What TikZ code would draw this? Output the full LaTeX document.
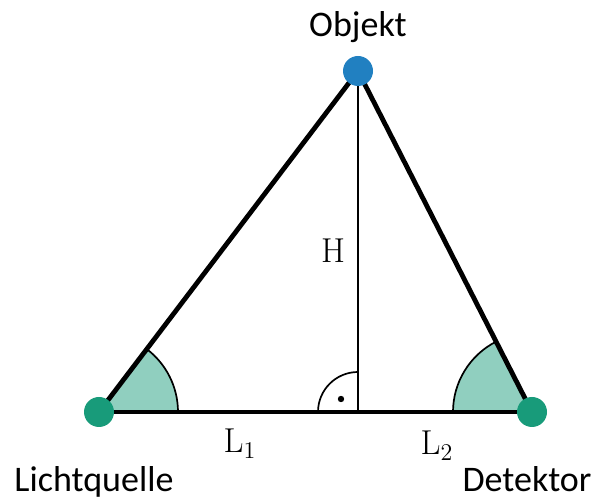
\documentclass[tikz,border=0pt]{standalone}
\usepackage[no-math]{fontspec}
\setmainfont{Carlito}
\usepackage{xcolor}
\definecolor{punktgruen}{RGB}{24,155,122}
\definecolor{punktblau}{RGB}{33,128,193}
\colorlet{winkelfill}{punktgruen!48}
\usepackage{tikz}
\usetikzlibrary{angles,backgrounds}

\begin{document}
\begin{tikzpicture}[
  x=0.5pt, y=-0.5pt,
  font=\fontsize{18}{22}\selectfont,
  punkt/.style={
    circle, inner sep=0pt, minimum size=15pt,
    fill=#1
  },
  seite/.style={line width=2.4pt, color=black},
  lot/.style={line width=1.3pt, color=black},
  winkel/.style={
    draw=black, fill=winkelfill,
    line width=0.85pt, angle radius=39.5pt
  },
  rechts/.style={
    draw=black, line width=0.85pt, angle radius=20pt
  },
  unten/.style={anchor=base, inner sep=0.5pt},
  mathlabel/.style={font=\fontsize{16.5}{19}\selectfont, anchor=base}
]
\useasboundingbox (0,0) rectangle (595,501);

\node[punkt=punktgruen] (quelle) at (99,412) {};
\node[punkt=punktblau] (objekt) at (358,71) {};
\node[punkt=punktgruen] (detektor) at (532,412) {};
\coordinate (fuss) at (358,412);

\begin{scope}[on background layer]
\pic[winkel] {angle = detektor--quelle--objekt};
\pic[winkel] {angle = objekt--detektor--quelle};
\pic[rechts] {angle = objekt--fuss--quelle};
\draw[lot] (objekt.center) -- (fuss);
\draw[seite] (quelle.center) -- (objekt.center);
\draw[seite] (objekt.center) -- (detektor.center);
\draw[seite] (quelle.center) -- (detektor.center);
\end{scope}

\node[circle, fill=black, inner sep=0pt, minimum size=3.2pt] (rechtpunkt) at (341,399) {};

\node (objektlabel) at (358,27) {Objekt};
\node[unten] (quellelabel) at (94,492) {Lichtquelle};
\node[unten] (detektorlabel) at (527,492) {Detektor};
\node[mathlabel] (hlabel) at (333,263) {$\mathrm{H}$};
\node[mathlabel] (leinslabel) at (240,453) {$\mathrm{L}_1$};
\node[mathlabel] (lzweilabel) at (437,455) {$\mathrm{L}_2$};
\end{tikzpicture}
\end{document}
